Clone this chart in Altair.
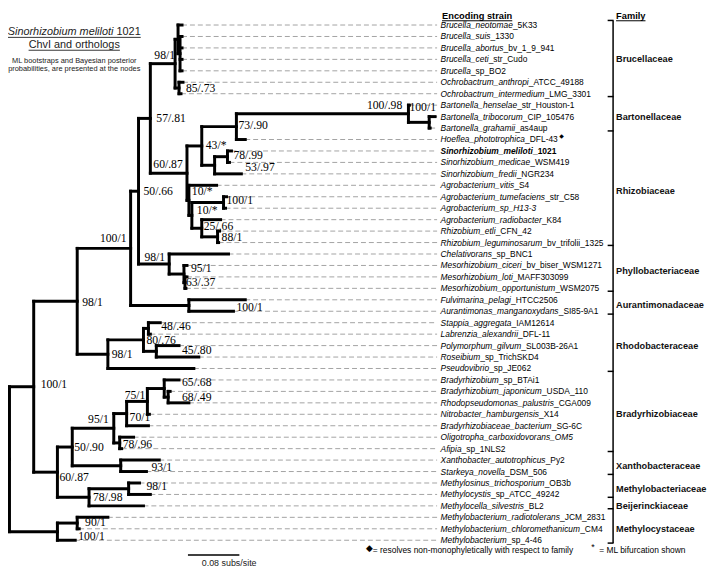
import altair as alt
import pandas as pd

# ---------------- data ----------------
leaf_italic = [
    "Brucella_neotomae", "Brucella_suis", "Brucella_abortus", "Brucella_ceti", "Brucella",
    "Ochrobactrum_anthropi", "Ochrobactrum_intermedium",
    "Bartonella_henselae", "Bartonella_tribocorum", "Bartonella_grahamii",
    "Hoeflea_phototrophica", "Sinorhizobium_meliloti", "Sinorhizobium_medicae", "Sinorhizobium_fredii",
    "Agrobacterium_vitis", "Agrobacterium_tumefaciens", "Agrobacterium_sp_H13-3", "Agrobacterium_radiobacter",
    "Rhizobium_etli", "Rhizobium_leguminosarum",
    "Chelativorans", "Mesorhizobium_ciceri", "Mesorhizobium_loti", "Mesorhizobium_opportunistum",
    "Fulvimarina_pelagi", "Aurantimonas_manganoxydans",
    "Stappia_aggregata", "Labrenzia_alexandrii", "Polymorphum_gilvum", "Roseibium", "Pseudovibrio",
    "Bradyrhizobium", "Bradyrhizobium_japonicum", "Rhodopseudomonas_palustris", "Nitrobacter_hamburgensis",
    "Bradyrhizobiaceae_bacterium", "Oligotropha_carboxidovorans_OM5", "Afipia",
    "Xanthobacter_autotrophicus", "Starkeya_novella",
    "Methylosinus_trichosporium", "Methylocystis", "Methylocella_silvestris",
    "Methylobacterium_radiotolerans", "Methylobacterium_chloromethanicum", "Methylobacterium"]
leaf_plain = [
    "_5K33", "_1330", "_bv_1_9_941", "_str_Cudo", "_sp_BO2", "_ATCC_49188", "_LMG_3301",
    "_str_Houston-1", "_CIP_105476", "_as4aup", "_DFL-43", "_1021", "_WSM419", "_NGR234", "_S4",
    "_str_C58", "", "_K84", "_CFN_42", "_bv_trifolii_1325", "_sp_BNC1", "_bv_biser_WSM1271",
    "_MAFF303099", "_WSM2075", "_HTCC2506", "_SI85-9A1", "_IAM12614", "_DFL-11", "_SL003B-26A1",
    "_sp_TrichSKD4", "_sp_JE062", "_sp_BTAi1", "_USDA_110", "_CGA009", "_X14", "_SG-6C", "",
    "_sp_1NLS2", "_Py2", "_DSM_506", "_OB3b", "_sp_ATCC_49242", "_BL2", "_JCM_2831", "_CM4", "_sp_4-46"]
# tip depth of every leaf (subs/site from the root)
leaf_tip = [
    0.2685, 0.2685, 0.2685, 0.2685, 0.2685, 0.2700, 0.2669,
    0.6223, 0.6623, 0.6546,
    0.3669, 0.3454, 0.3423, 0.3608, 0.3223, 0.3377, 0.3362, 0.3285, 0.3269, 0.3254,
    0.3408, 0.2762, 0.2762, 0.2746,
    0.3669, 0.3485,
    0.2346, 0.2192, 0.2638, 0.2946, 0.2869,
    0.2638, 0.2500, 0.2792, 0.2177, 0.2162, 0.1931, 0.1746,
    0.2331, 0.2131, 0.2023, 0.2192, 0.2085, 0.1531, 0.1085, 0.1023]
bold_leaf = 11   # Sinorhizobium meliloti 1021
flag_leaf = 10   # Hoeflea (diamond)

# internal nodes: name, depth (subs/site), children (int = leaf index)
node_name = ["root", "N1", "M", "M1", "N2", "N3", "N4", "N5", "N6", "BF", "BG", "R", "OC",
             "N60", "N43", "N73", "Bart", "BartIn", "N53", "N78", "NA", "NB", "N100", "N25", "N88",
             "NP", "N95", "N63", "NAu", "NR", "N80", "N48", "N45",
             "N50", "N95b", "N75", "N70", "N65", "N68", "N78b", "NX", "N78c", "N98c"]
node_depth = [0.0, 0.0377, 0.0746, 0.1054, 0.1054, 0.0746, 0.1885, 0.2008, 0.2192, 0.2577, 0.2623, 0.2654, 0.2638,
              0.2762, 0.2992, 0.3531, 0.6208, 0.6531, 0.3192, 0.3392, 0.2792, 0.2838, 0.3331, 0.2992, 0.3238,
              0.2485, 0.2715, 0.2731, 0.2792, 0.1531, 0.2085, 0.2162, 0.2285,
              0.0977, 0.1623, 0.1823, 0.2146, 0.2408, 0.2469, 0.1715, 0.1731, 0.1238, 0.1854]
node_children = [["N1", "M"], ["N2", "N3"], ["M1", 45], [43, 44], ["N4", "NR"], ["N50", "N78c"],
                 ["N5", "NAu"], ["N6", "NP"], ["BF", "N60"], ["BG", "OC"], [0, "R"], [1, 2, 3, 4], [5, 6],
                 ["N43", "NA"], ["N73", "N53"], ["Bart", 10], [7, "BartIn"], [8, 9], ["N78", 13], [11, 12],
                 [14, "NB"], ["N100", "N25"], [15, 16], [17, "N88"], [18, 19],
                 [20, "N95"], [21, "N63"], [22, 23], [24, 25], ["N80", 30], ["N48", "N45"], [26, 27], [28, 29],
                 ["N95b", "NX"], ["N75", "N78b"], ["N70", 35], ["N65", 34], [31, "N68"], [32, 33], [36, 37],
                 [38, 39], ["N98c", 42], [40, 41]]
root_stub = -0.006

support_text = ["98/1", "85/.73", "57/.81", "100/.98", "100/1", "73/.90", "43/*", "78/.99", "53/.97",
                "60/.87", "50/.66", "10/*", "100/1", "10/*", "25/.66", "88/1", "100/1", "98/1", "95/1",
                "63/.37", "98/1", "100/1", "48/.46", "80/.76", "45/.80", "98/1", "100/1", "65/.68",
                "68/.49", "75/1", "70/1", "95/1", "78/.96", "50/.90", "93/1", "60/.87", "98/1", "78/.98",
                "90/1", "100/1"]
support_x = [0.2254, 0.2746, 0.2285, 0.5562, 0.6223, 0.3562, 0.3054, 0.3485, 0.3669,
             0.2238, 0.2085, 0.2838, 0.3377, 0.2915, 0.3023, 0.3300, 0.1408, 0.2100, 0.2823,
             0.2746, 0.1131, 0.3531, 0.2362, 0.2131, 0.2685, 0.1592, 0.0485, 0.2685,
             0.2685, 0.1792, 0.1869, 0.1223, 0.1762, 0.1008, 0.2208, 0.0777, 0.2131, 0.1300,
             0.1177, 0.1069]
support_y = [2.59, 5.49, 8.13, 7.02, 7.19, 8.73, 10.52, 11.37, 12.40,
             12.14, 14.53, 14.53, 15.30, 16.15, 17.52, 18.54, 18.63, 20.25, 21.19,
             22.47, 24.17, 24.60, 26.31, 27.50, 28.35, 28.78, 31.34, 31.22,
             32.48, 32.36, 34.24, 34.41, 36.63, 36.89, 38.60, 39.45, 40.30, 41.24,
             43.42, 44.62]

family_name = ["Brucellaceae", "Bartonellaceae", "Rhizobiaceae", "Phyllobacteriaceae", "Aurantimonadaceae",
               "Rhodobacteraceae", "Bradyrhizobiaceae", "Xanthobacteraceae", "Methylobacteriaceae",
               "Beijerinckiaceae", "Methylocystaceae"]
family_first = [0, 7, 10, 20, 24, 26, 31, 38, 40, 42, 43]
family_last = [6, 9, 19, 23, 25, 30, 37, 39, 41, 42, 45]

scale_bar_start = 0.2777
scale_bar_len = 0.08

# ---------------- layout helpers ----------------
W, H = 708, 563
X0 = -0.0023
X1 = X0 + W / 650.0
Y_TOP, Y_STEP = 14.0, 11.58
Y0 = -Y_TOP / Y_STEP
Y1 = (H - Y_TOP) / Y_STEP


def px_to_x(px):
    return X0 + px * (X1 - X0) / W


_lo = [556, 556, 500, 556, 556, 278, 556, 556, 222, 222, 500, 222, 833, 556, 556, 556, 556, 333, 500, 278, 556, 500, 722, 500, 500, 500]
_up = [667, 667, 722, 722, 667, 611, 778, 722, 278, 500, 667, 556, 833, 722, 778, 667, 778, 722, 667, 611, 722, 667, 944, 667, 667, 611]
_lob = [556, 611, 556, 611, 556, 333, 611, 611, 278, 278, 556, 278, 889, 611, 611, 611, 611, 389, 556, 333, 611, 556, 778, 556, 556, 500]
_upb = [722, 722, 722, 722, 667, 611, 778, 722, 278, 556, 722, 611, 833, 722, 778, 667, 778, 722, 667, 611, 722, 667, 944, 667, 667, 611]
_other = {"_": 556, "-": 333, " ": 278, ".": 278, "/": 278, ",": 278, "=": 584, "*": 389}


def tw(s, fs, bold=False):
    tot = 0
    for c in s:
        if "a" <= c <= "z":
            tot += (_lob if bold else _lo)[ord(c) - 97]
        elif "A" <= c <= "Z":
            tot += (_upb if bold else _up)[ord(c) - 65]
        elif c.isdigit():
            tot += 556
        else:
            tot += _other.get(c, 556)
    return tot * fs / 1000.0


# ---------------- tree geometry ----------------
kids = dict(zip(node_name, node_children))
depth = dict(zip(node_name, node_depth))
ypos = {}


def get_y(n):
    if isinstance(n, int):
        return float(n)
    if n not in ypos:
        ch = kids[n]
        ypos[n] = (get_y(ch[0]) + get_y(ch[-1])) / 2.0
    return ypos[n]


def get_d(n):
    return leaf_tip[n] if isinstance(n, int) else depth[n]


hrows, vrows = [], []
hrows.append({"x": root_stub, "x2": 0.0, "y": get_y("root")})
for n in node_name:
    ch = kids[n]
    vrows.append({"x": depth[n], "y": get_y(ch[0]), "y2": get_y(ch[-1])})
    for c in ch:
        hrows.append({"x": depth[n], "x2": get_d(c), "y": get_y(c)})
hseg = pd.DataFrame(hrows)
vseg = pd.DataFrame(vrows)

FS_LEAF = 8.5
LABEL_PX = 437.5
LEADER_END = 434
lrows = []
for i in range(len(leaf_italic)):
    b = i == bold_leaf
    x2px = LABEL_PX + tw(leaf_italic[i], FS_LEAF, b)
    lrows.append({"y": i, "tip": leaf_tip[i], "ital": leaf_italic[i], "plain": leaf_plain[i],
                  "xplain": px_to_x(x2px), "bold": b,
                  "xend": px_to_x(x2px + tw(leaf_plain[i], FS_LEAF, b) + 1.5)})
leaves = pd.DataFrame(lrows)
norm = leaves[~leaves["bold"]]
boldr = leaves[leaves["bold"]]
flag = leaves[leaves["y"] == flag_leaf]

supp = pd.DataFrame({"t": support_text, "x": support_x, "y": support_y})

fam = pd.DataFrame({"name": family_name,
                    "yc": [(a + b) / 2.0 for a, b in zip(family_first, family_last)]})
bounds = [family_first[0] - 0.4] + [b + 0.25 for b in family_last]
famb = pd.DataFrame({"y": bounds})
famline = pd.DataFrame({"y": [bounds[0]], "y2": [bounds[-1]]})
sbar = pd.DataFrame({"x": [scale_bar_start], "x2": [scale_bar_start + scale_bar_len]})

xs = alt.Scale(domain=[X0, X1], nice=False, zero=False)
ys = alt.Scale(domain=[Y0, Y1], nice=False, zero=False, reverse=True)


def X(f):
    return alt.X(f, type="quantitative", scale=xs, axis=None)


def Y(f):
    return alt.Y(f, type="quantitative", scale=ys, axis=None)


one = pd.DataFrame({"k": [0]})
SANS = "Liberation Sans"
SERIF = "Liberation Serif"


def txt(text, px, py, **kw):
    args = dict(font=SANS, align="left", baseline="middle", color="black")
    args.update(kw)
    return alt.Chart(one).mark_text(text=text, **args).encode(x=alt.value(px), y=alt.value(py))


def hline(a, b, py, w=1.0):
    return alt.Chart(one).mark_rule(color="black", strokeWidth=w).encode(
        x=alt.value(a), x2=alt.value(b), y=alt.value(py))


layers = []
# dashed leaders
layers.append(alt.Chart(leaves).mark_rule(color="#a3a3a3", strokeWidth=1, strokeDash=[5, 3]).encode(
    x=X("tip"), x2=alt.value(LEADER_END), y=Y("y")))
# tree branches
layers.append(alt.Chart(hseg).mark_rule(color="black", strokeWidth=3, strokeCap="square").encode(
    x=X("x"), x2=alt.X2("x2"), y=Y("y")))
layers.append(alt.Chart(vseg).mark_rule(color="black", strokeWidth=3, strokeCap="square").encode(
    x=X("x"), y=Y("y"), y2=alt.Y2("y2")))
# leaf labels
layers.append(alt.Chart(norm).mark_text(font=SANS, fontSize=FS_LEAF, fontStyle="italic", align="left",
                                        baseline="middle", color="black").encode(
    x=alt.value(LABEL_PX), y=Y("y"), text="ital:N"))
layers.append(alt.Chart(norm).mark_text(font=SANS, fontSize=FS_LEAF, align="left",
                                        baseline="middle", color="black").encode(
    x=X("xplain"), y=Y("y"), text="plain:N"))
layers.append(alt.Chart(boldr).mark_text(font=SANS, fontSize=FS_LEAF, fontStyle="italic", fontWeight="bold",
                                         align="left", baseline="middle", color="black").encode(
    x=alt.value(LABEL_PX), y=Y("y"), text="ital:N"))
layers.append(alt.Chart(boldr).mark_text(font=SANS, fontSize=FS_LEAF, fontWeight="bold", align="left",
                                         baseline="middle", color="black").encode(
    x=X("xplain"), y=Y("y"), text="plain:N"))
layers.append(alt.Chart(flag).mark_text(text="\u25C6", font="DejaVu Sans", fontSize=6, align="left",
                                        baseline="middle", dy=-4, color="black").encode(
    x=X("xend"), y=Y("y")))
# support values
layers.append(alt.Chart(supp).mark_text(font=SERIF, fontSize=11.8, align="left", baseline="middle",
                                        color="black").encode(x=X("x"), y=Y("y"), text="t:N"))
# family brackets
layers.append(alt.Chart(famline).mark_rule(color="black", strokeWidth=1.5).encode(
    x=alt.value(612), y=Y("y"), y2=alt.Y2("y2")))
layers.append(alt.Chart(famb).mark_rule(color="black", strokeWidth=1.5).encode(
    x=alt.value(606.5), x2=alt.value(612.5), y=Y("y")))
layers.append(alt.Chart(fam).mark_text(font=SANS, fontSize=9.3, fontWeight="bold", align="left",
                                       baseline="middle", color="#111").encode(
    x=alt.value(615), y=Y("yc"), text="name:N"))
# headers
layers.append(txt("Encoding strain", 439, 8.2, fontSize=9.4, fontWeight="bold", baseline="alphabetic"))
layers.append(hline(439, 439 + tw("Encoding strain", 9.4, True), 9.7))
layers.append(txt("Family", 615, 8.2, fontSize=9.4, fontWeight="bold", baseline="alphabetic"))
layers.append(hline(615, 615 + tw("Family", 9.4, True), 9.7))
# title block (top left)
t1a, t1b = "Sinorhizobium meliloti", "1021"
w1a, w1s, w1b = tw(t1a, 11), tw(" ", 11), tw(t1b, 11)
cx = 67
s1 = cx - (w1a + w1s + w1b) / 2
layers.append(txt(t1a, s1, 21, fontSize=11, fontStyle="italic", color="#222"))
layers.append(txt(t1b, s1 + w1a + w1s, 21, fontSize=11, color="#222"))
layers.append(hline(s1, s1 + w1a + w1s + w1b, 26.5, 0.8))
t2 = "ChvI and orthologs"
w2 = tw(t2, 11)
layers.append(txt(t2, cx, 34, fontSize=11, align="center", color="#222"))
layers.append(hline(cx - w2 / 2, cx + w2 / 2, 39.5, 0.8))
layers.append(txt("ML bootstraps and Bayesian posterior", cx, 50, fontSize=7.5, align="center", color="#222"))
layers.append(txt("probabilities, are presented at the nodes", cx, 59, fontSize=7.5, align="center", color="#222"))
# scale bar
layers.append(alt.Chart(sbar).mark_rule(color="black", strokeWidth=1.5).encode(
    x=X("x"), x2=alt.X2("x2"), y=alt.value(550)))
layers.append(txt("0.08  subs/site", 196, 558, fontSize=9, color="#222"))
# bottom legend
layers.append(txt("\u25C6", 362, 543, fontSize=9, font="DejaVu Sans"))
layers.append(txt("= resolves non-monophyletically with respect to family", 369, 545, fontSize=8.5))
layers.append(txt("*", 590, 542, fontSize=9))
layers.append(txt("= ML bifurcation shown", 598, 545, fontSize=8.5))

chart = alt.layer(*layers).properties(
    width=W, height=H, padding=0, autosize=alt.AutoSizeParams(type="none"), background="white"
).configure_view(stroke=None)

chart.save("out.html", embed_options={"renderer": "svg", "actions": False})
